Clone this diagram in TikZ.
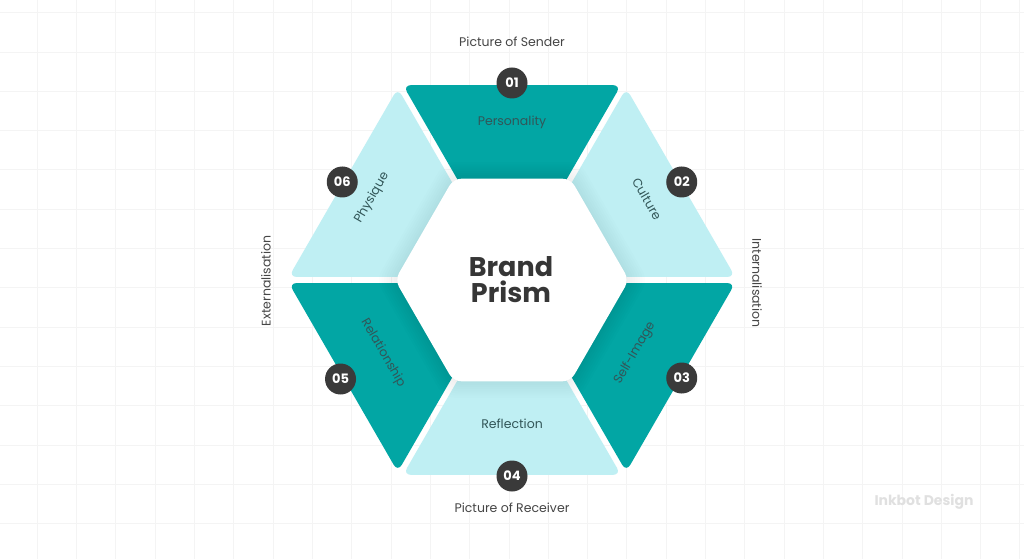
\documentclass[tikz,border=0pt]{standalone}
\usepackage{fontspec}
\setmainfont{Poppins}
\usetikzlibrary{calc}
\definecolor{darkteal}{HTML}{02A6A4}
\definecolor{lightteal}{HTML}{BFEFF3}
\definecolor{numgray}{HTML}{3A3A3A}
\definecolor{labelgray}{HTML}{454545}
\definecolor{segtext}{HTML}{325658}
\definecolor{gridgray}{HTML}{F4F4F4}
\definecolor{brandgray}{HTML}{363636}
\definecolor{markgray}{HTML}{E0E0E0}
\newcommand\Ro{225}
\newcommand\Ri{108}
\newcommand\gapd{3.5pt}
\newcommand\hexseg[3]{%
  \fill[#3, rounded corners=8pt]
    ($(#1:\Ro)!\gapd!(#2:\Ro)$) -- ($(#2:\Ro)!\gapd!(#1:\Ro)$) --
    ($(#2:\Ri)!\gapd!(#1:\Ri)$) -- ($(#1:\Ri)!\gapd!(#2:\Ri)$) -- cycle;}
\tikzset{
  numc/.style={circle, fill=numgray, text=white, minimum size=31pt, inner sep=0pt,
    font=\bfseries\fontsize{13}{13}\selectfont},
  seglabel/.style={text=segtext, inner sep=0pt, font=\fontsize{12.5}{13}\selectfont},
  outlabel/.style={text=labelgray, inner sep=0pt, font=\fontsize{12.5}{13}\selectfont},
}
\begin{document}
\begin{tikzpicture}[x=1pt,y=1pt]
\useasboundingbox (-512,-279) rectangle (512,280);
\fill[white] (-512,-279) rectangle (512,280);
% background grid
\foreach \i in {0,...,25} \draw[gridgray, line width=0.8pt] ({-474.7+39.3*\i},-279) -- ++(0,559);
\foreach \j in {0,...,14} \draw[gridgray, line width=0.8pt] (-512,{267.3-39.3*\j}) -- ++(1024,0);
% ring segments
\hexseg{60}{120}{darkteal}
\hexseg{0}{60}{lightteal}
\hexseg{-60}{0}{darkteal}
\hexseg{240}{300}{lightteal}
\hexseg{180}{240}{darkteal}
\hexseg{120}{180}{lightteal}
% soft shadow of central hexagon
\foreach \k in {1,...,8}
  \fill[black, opacity=0.009, rounded corners=10pt]
    (0:{116+2.5*\k}) -- (60:{116+2.5*\k}) -- (120:{116+2.5*\k}) -- (180:{116+2.5*\k}) -- (240:{116+2.5*\k}) -- (300:{116+2.5*\k}) -- cycle;
% central hexagon
\fill[white, rounded corners=8pt] (0:117) -- (60:117) -- (120:117) -- (180:117) -- (240:117) -- (300:117) -- cycle;
\node[align=center, text=brandgray, font=\bfseries\fontsize{27}{26}\selectfont] (brand) at (-1,0) {Brand\\Prism};
% segment labels
\node[seglabel] (personality) at (0,158) {Personality};
\node[seglabel, rotate=-60] (culture) at (135,81) {Culture};
\node[seglabel, rotate=60] (selfimage) at (123,-73) {Self-Image};
\node[seglabel] (reflection) at (0,-144) {Reflection};
\node[seglabel, rotate=-60] (relationship) at (-129,-73) {Relationship};
\node[seglabel, rotate=60] (physique) at (-140,82) {Physique};
% number circles
\node[numc] (n1) at (90:197) {01};
\node[numc] (n2) at (30:196) {02};
\node[numc] (n3) at (-30:196) {03};
\node[numc] (n4) at (270:196) {04};
\node[numc] (n5) at (210:198) {05};
\node[numc] (n6) at (150:196) {06};
% outer labels
\node[outlabel] (sender) at (0,238) {Picture of Sender};
\node[outlabel] (receiver) at (0,-228) {Picture of Receiver};
\node[outlabel, rotate=90] (ext) at (-246,-1) {Externalisation};
\node[outlabel, rotate=-90] (int) at (245,-3) {Internalisation};
% watermark
\node[text=markgray, inner sep=0pt, font=\bfseries\fontsize{14}{14}\selectfont] (mark) at (412,-222) {Inkbot Design};
\end{tikzpicture}
\end{document}
